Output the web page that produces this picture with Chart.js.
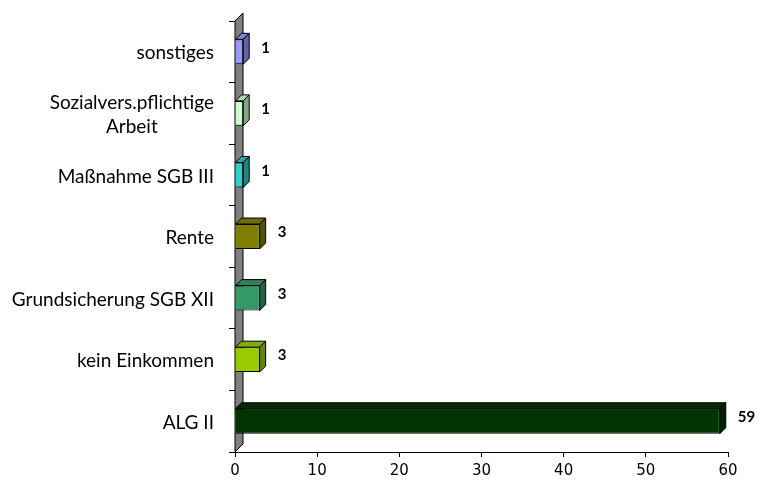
<!DOCTYPE html>
<html>
<head>
<meta charset="utf-8">
<script src="https://cdn.jsdelivr.net/npm/chart.js@4/dist/chart.umd.min.js"></script>
<style>
html,body{margin:0;padding:0;background:#fff}
#wrap{width:758px;height:481px}
</style>
</head>
<body>
<div id="wrap"><canvas id="graficaEinkommen"></canvas></div>
<script>
// Einkommensarten und Anzahl
const kategorien = [
  "sonstiges",
  ["Sozialvers.pflichtige", "Arbeit"],
  "Maßnahme SGB III",
  "Rente",
  "Grundsicherung SGB XII",
  "kein Einkommen",
  "ALG II"
]
const anzahl = [1, 1, 1, 3, 3, 3, 59]
const xTicks = [0, 10, 20, 30, 40, 50, 60]

const farben = ["#9999ff", "#ccffcc", "#33cccc", "#808000", "#339966", "#99cc00", "#003300"]

const tiefe = 6      // 3D-Tiefe der Balken
const wandTiefe = 8  // 3D-Tiefe der Seitenwand

function abdunkeln(hex, f){
  const n = parseInt(hex.slice(1), 16)
  const r = Math.round(((n >> 16) & 255) * f)
  const g = Math.round(((n >> 8) & 255) * f)
  const b = Math.round((n & 255) * f)
  return "rgb(" + r + "," + g + "," + b + ")"
}

function poly(ctx, pts, fill){
  ctx.beginPath()
  ctx.moveTo(pts[0][0], pts[0][1])
  for(let i=1;i<pts.length;i++) ctx.lineTo(pts[i][0], pts[i][1])
  ctx.closePath()
  ctx.fillStyle = fill
  ctx.fill()
  ctx.stroke()
}

// graue Wand links und 3D-Flaechen der Balken
const dreiD = {
  id: "dreiD",
  beforeDatasetsDraw(chart){
    const ctx = chart.ctx
    const a = chart.chartArea
    const x0 = chart.scales.x.getPixelForValue(0)
    ctx.save()
    ctx.strokeStyle = "#000"
    ctx.lineWidth = 1
    poly(ctx, [[x0, a.bottom], [x0, a.top], [x0+wandTiefe, a.top-wandTiefe], [x0+wandTiefe, a.bottom-wandTiefe]], "#808080")
    ctx.restore()
  },
  afterDatasetsDraw(chart){
    const ctx = chart.ctx
    const meta = chart.getDatasetMeta(0)
    ctx.save()
    ctx.strokeStyle = "#000"
    ctx.lineWidth = 1
    meta.data.forEach((bar, i)=>{
      const p = bar.getProps(["x", "y", "base", "height"], true)
      const top = p.y - p.height/2
      const bottom = p.y + p.height/2
      poly(ctx, [[p.base, top], [p.base+tiefe, top-tiefe], [p.x+tiefe, top-tiefe], [p.x, top]], abdunkeln(farben[i], 0.85))
      poly(ctx, [[p.x, top], [p.x+tiefe, top-tiefe], [p.x+tiefe, bottom-tiefe], [p.x, bottom]], abdunkeln(farben[i], 0.65))

      ctx.fillStyle = "#000"
      ctx.font = "bold 15px Lato"
      ctx.textAlign = "left"
      ctx.textBaseline = "middle"
      ctx.fillText(String(anzahl[i]), p.x + 18, p.y - 4)
    })
    ctx.restore()
  },
  afterDraw(chart){
    // Kategorienbeschriftung, mehrzeilige Texte zentriert
    const ctx = chart.ctx
    const y = chart.scales.y
    const rechts = 214
    ctx.save()
    ctx.fillStyle = "#000"
    ctx.font = "19px Lato"
    ctx.textAlign = "center"
    ctx.textBaseline = "middle"
    kategorien.forEach((k, i)=>{
      const zeilen = Array.isArray(k) ? k : [k]
      const breite = Math.max(...zeilen.map(z=>ctx.measureText(z).width))
      const mitte = rechts - breite/2
      const yc = y.getPixelForValue(i) + 1.5
      const lh = 24
      zeilen.forEach((z, j)=>{
        ctx.fillText(z, mitte, yc + (j - (zeilen.length-1)/2) * lh)
      })
    })
    ctx.restore()
  }
}

new Chart(document.getElementById("graficaEinkommen"), {
  type: "bar",
  data: {
    labels: kategorien,
    datasets: [{
      data: anzahl,
      backgroundColor: farben,
      borderColor: "#000",
      borderWidth: 1,
      categoryPercentage: 1,
      barPercentage: 0.405
    }]
  },
  options: {
    indexAxis: "y",
    responsive: true,
    maintainAspectRatio: false,
    animation: false,
    layout: { padding: { top: 21, right: 30, left: 0, bottom: 0 } },
    plugins: { legend: { display: false }, tooltip: { enabled: false } },
    scales: {
      x: {
        min: 0,
        max: 60,
        afterBuildTicks(scale){ scale.ticks = xTicks.map(v=>({ value: v })) },
        afterFit(scale){ scale.height = 29 },
        grid: { drawOnChartArea: false, color: "#000", tickLength: 5 },
        border: { color: "#000", width: 1 },
        ticks: { color: "#000", font: { family: "DejaVu Sans", size: 15 }, padding: 5, maxRotation: 0 }
      },
      y: {
        afterFit(scale){ scale.width = 235 },
        grid: { drawOnChartArea: false, color: "#000", tickLength: 6, offset: true },
        border: { color: "#000", width: 1 },
        ticks: { display: false }
      }
    }
  },
  plugins: [dreiD]
})
</script>
</body>
</html>
